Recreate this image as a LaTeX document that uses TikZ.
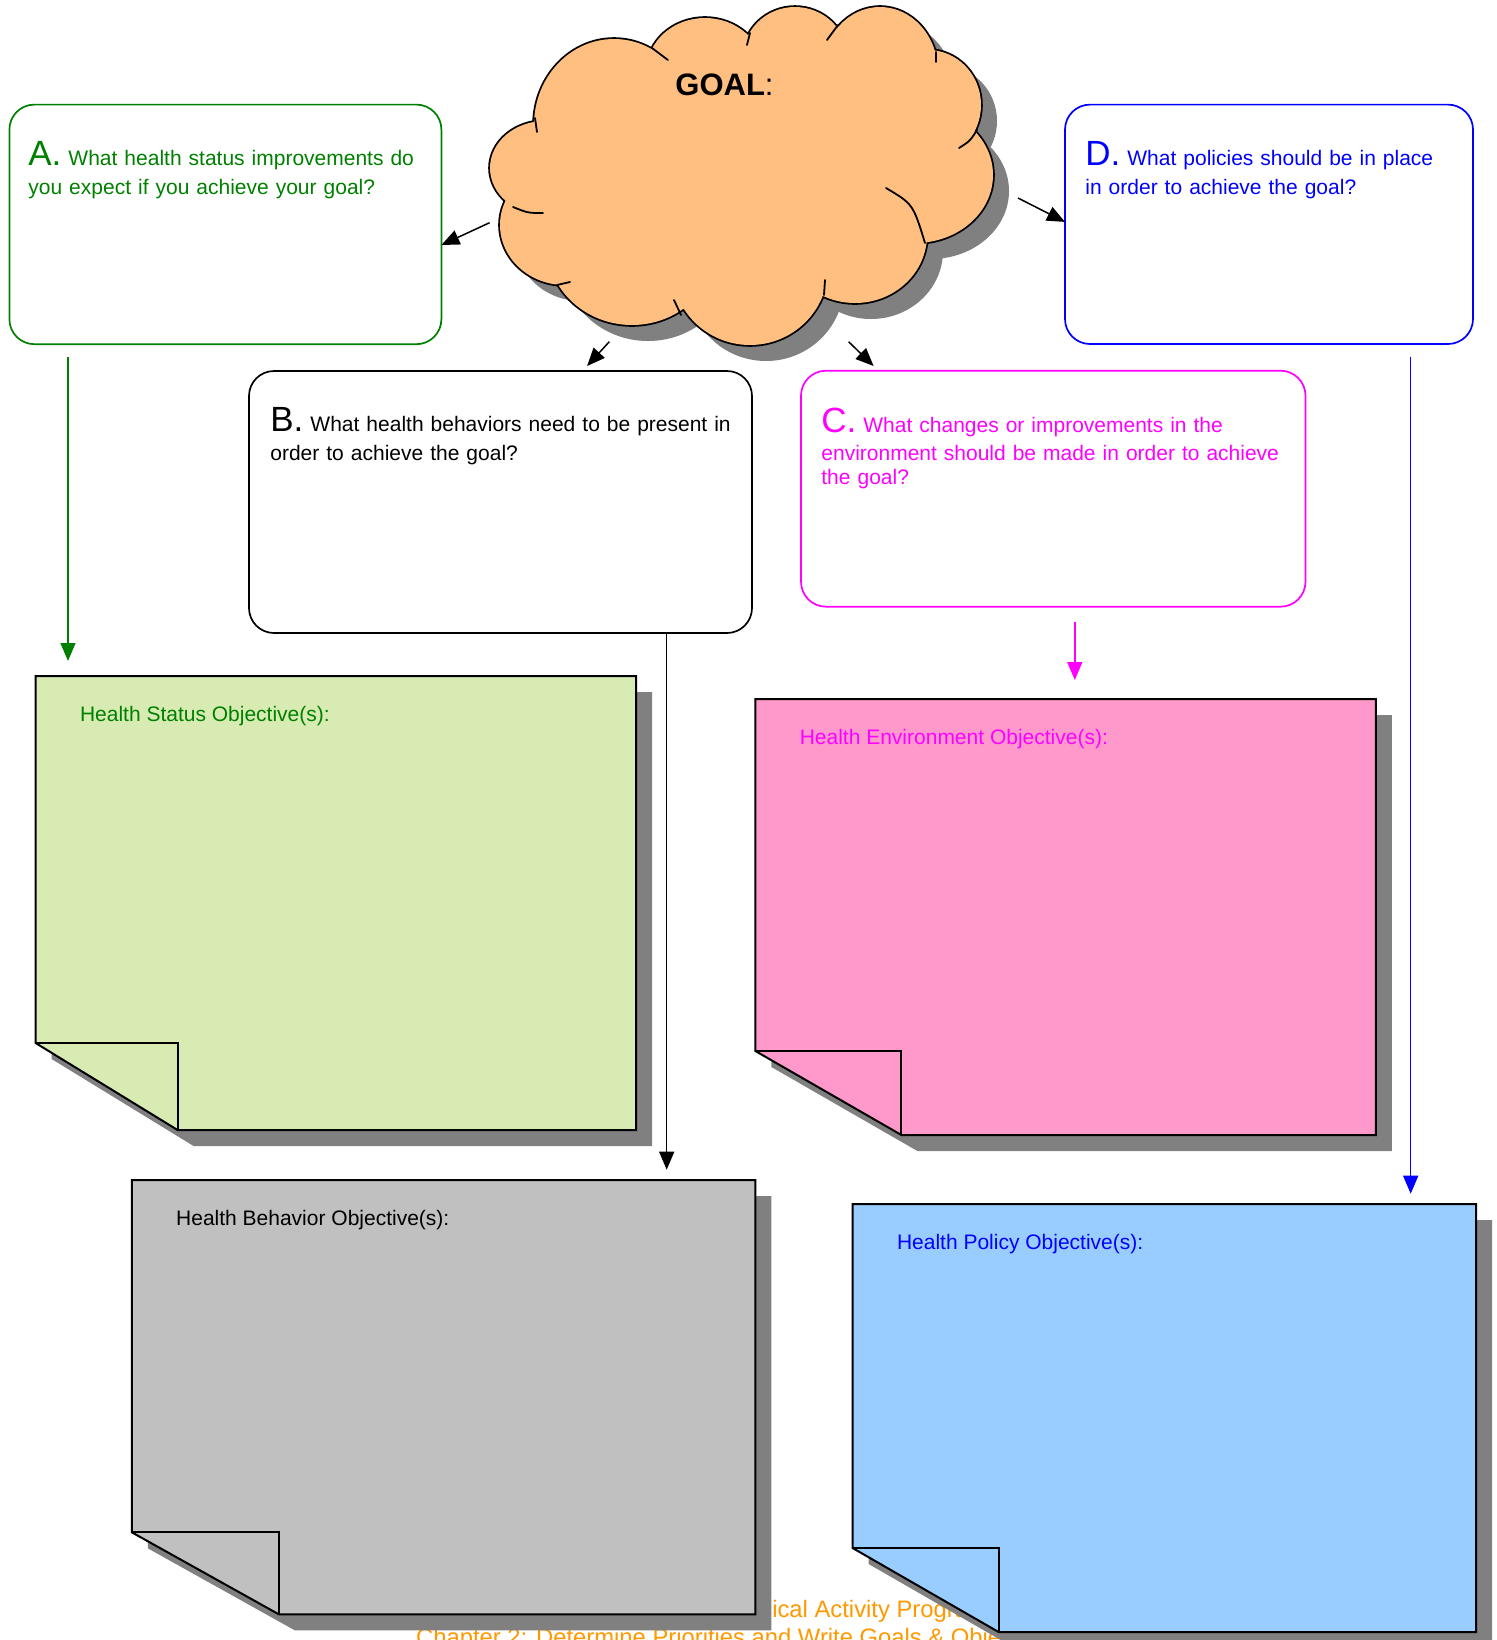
\documentclass[tikz,border=0pt]{standalone}
\usepackage{fontspec}
\setmainfont{Liberation Sans}
\usetikzlibrary{arrows.meta,calc}
\definecolor{cgreen}{RGB}{0,128,0}
\definecolor{cmag}{RGB}{255,0,255}
\definecolor{cblue}{RGB}{0,0,255}
\definecolor{cloudfill}{RGB}{255,191,128}
\definecolor{shadowgray}{RGB}{128,128,128}
\definecolor{notegreen}{RGB}{216,235,178}
\definecolor{notepink}{RGB}{255,153,204}
\definecolor{notegray}{RGB}{192,192,192}
\definecolor{noteblue}{RGB}{153,204,255}
\definecolor{footorange}{RGB}{255,153,0}

\newcommand{\bigletter}[1]{{\fontsize{17.5}{20}\selectfont #1}}
\newcommand{\cloudellipses}{%
  (614,125) ellipse [x radius=80, y radius=86]
  (705,70) ellipse [x radius=58, y radius=52]
  (795,57) ellipse [x radius=52, y radius=50]
  (880,72) ellipse [x radius=58, y radius=65]
  (928,105) ellipse [x radius=53, y radius=55]
  (915,175) ellipse [x radius=78, y radius=68]
  (855,235) ellipse [x radius=72, y radius=68]
  (750,268) ellipse [x radius=78, y radius=77]
  (632,245) ellipse [x radius=85, y radius=80]
  (565,225) ellipse [x radius=65, y radius=60]
  (545,168) ellipse [x radius=55, y radius=47]}
\newcommand{\cloudcore}{%
  (541,124) -- (655,55) -- (749,40) -- (836,33) -- (930,61) -- (970,133)
  -- (919,239) -- (822,286) -- (683,309) -- (562,280) -- (519,205) -- cycle}
\newcommand{\stickynote}[4]{%
  \fill[shadowgray, transform canvas={shift={(16,16)}}] (#1.north west) -- (#1.north east)
     -- (#1.south east) -- ($(#1.south west)+(#3,0)$) -- ($(#1.south west)+(0,-#4)$) -- cycle;
  \filldraw[fill=#2, notestroke] (#1.north west) -- (#1.north east)
     -- (#1.south east) -- ($(#1.south west)+(#3,0)$) -- ($(#1.south west)+(0,-#4)$) -- cycle;
  \draw[notestroke] ($(#1.south west)+(0,-#4)$) -- ($(#1.south west)+(#3,-#4)$)
     -- ($(#1.south west)+(#3,0)$);}

\begin{document}
\begin{tikzpicture}[x=0.5pt,y=-0.5pt,
  qbox/.style={draw, fill=white, rounded corners=12.5pt, line width=0.85pt,
    anchor=north west, inner sep=0pt, outer sep=0pt},
  qtext/.style={anchor=base west, inner sep=0pt, text width=250pt, align=left,
    font=\fontsize{10.5}{12}\selectfont},
  notebg/.style={anchor=north west, inner sep=0pt, outer sep=0pt},
  notetext/.style={anchor=base west, inner sep=0pt, font=\fontsize{10.5}{12}\selectfont},
  notestroke/.style={draw=black, line width=1pt, line join=miter},
  arr/.style={-{Triangle[length=9pt,width=7.5pt]}, line width=0.75pt},
  footer/.style={anchor=base west, inner sep=0pt, text=footorange,
    font=\fontsize{11.9}{14}\selectfont},
  tick/.style={line width=0.9pt, line cap=round}]
\useasboundingbox (0,0) rectangle (1496,1640);
\fill[white] (0,0) rectangle (1496,1640);

% footer (partly hidden, cut at the lower edge as in the original)
\node[footer] (foot1) at (719,1617) {Physical Activity Program};
\node[footer] (foot2) at (415.8,1645) {Chapter 2: Determine Priorities and Write Goals \& Objectives};

% cloud
\fill[shadowgray, shift={(16,16)}] \cloudellipses \cloudcore;
\draw[line width=1.8pt] \cloudellipses;
\fill[cloudfill] \cloudellipses \cloudcore;
\draw[tick] (652,48) .. controls (660,53) .. (668,60);
\draw[tick] (750,33) -- (747,45);
\draw[tick] (838,25) -- (827,40);
\draw[tick] (936,52) -- (936,62);
\draw[tick] (977,130) .. controls (970,141) .. (959,148);
\draw[tick] (886,188) .. controls (913,204) .. (925,243);
\draw[tick] (824,295) -- (825,280);
\draw[tick] (681,315) -- (674,300);
\draw[tick] (557,285) .. controls (564,284) .. (570,282);
\draw[tick] (513,207) .. controls (528,213) .. (543,213);
\draw[tick] (535,118) -- (537,132);
\node[anchor=base west, inner sep=0pt, font=\fontsize{15.5}{18}\selectfont] (goal) at (675,95) {\textbf{GOAL}:};

% sticky notes
\node[notebg, minimum width=300.2pt, minimum height=227pt] (G) at (35.6,676) {};
\node[notebg, minimum width=310.2pt, minimum height=218pt] (P) at (755.4,699) {};
\node[notebg, minimum width=311.8pt, minimum height=217.15pt] (Y) at (131.8,1180) {};
\node[notebg, minimum width=311.8pt, minimum height=214pt] (L) at (852.6,1204) {};
\stickynote{G}{notegreen}{142}{87}
\stickynote{P}{notepink}{146}{84}
\stickynote{Y}{notegray}{147}{82}
\stickynote{L}{noteblue}{146}{84}
\node[notetext, text=cgreen] (Gt) at ($(G.north west)+(44,45)$) {Health Status Objective(s):};
\node[notetext, text=cmag] (Pt) at ($(P.north west)+(44,45)$) {Health Environment Objective(s):};
\node[notetext, text=black] (Yt) at ($(Y.north west)+(44,45)$) {Health Behavior Objective(s):};
\node[notetext, text=cblue] (Lt) at ($(L.north west)+(44,45)$) {Health Policy Objective(s):};

% question boxes
\node[qbox, draw=cgreen, minimum width=216pt, minimum height=119.8pt] (A) at (9.4,104.6) {};
\node[qbox, draw=black, minimum width=251.5pt, minimum height=131pt] (B) at (249,371) {};
\node[qbox, draw=cmag, minimum width=252.25pt, minimum height=118pt] (C) at (801,370.7) {};
\node[qbox, draw=cblue, minimum width=204pt, minimum height=119.7pt] (D) at (1065,104.6) {};
\node[qtext, text=cgreen] (At) at ($(A.north west)+(18.6,60.4)$)
  {\bigletter{A.} What health status improvements do\\[2.5pt]you expect if you achieve your goal?};
\node[qtext, text=black] (Bt) at ($(B.north west)+(21,60.7)$)
  {\bigletter{B.} What health behaviors need to be present in\\[2.5pt]order to achieve the goal?};
\node[qtext, text=cmag] (Ct) at ($(C.north west)+(20,62)$)
  {\bigletter{C.} What changes or improvements in the\\[1.7pt]environment should be made in order to achieve\\the goal?};
\node[qtext, text=cblue] (Dt) at ($(D.north west)+(20,60.4)$)
  {\bigletter{D.} What policies should be in place\\[2.5pt]in order to achieve the goal?};

% connectors
\coordinate (cA) at (489.6,222.7);
\coordinate (cB) at (609.3,341.7);
\coordinate (cC) at (848.6,341.7);
\coordinate (cD) at (1018,198);
\coordinate (Ain) at ($(A.north east)!0.586!(A.south east)$);
\coordinate (Bin) at (587.1,366);
\coordinate (Cin) at (873.6,366);
\coordinate (Din) at ($(D.north west)!0.49!(D.south west)$);
\draw[arr] (cA) -- (Ain);
\draw[arr] (cB) -- (Bin);
\draw[arr] (cC) -- (Cin);
\draw[arr] (cD) -- (Din);

\coordinate (Aout) at (68,357);
\coordinate (Gin) at (68,661);
\coordinate (Bout) at (666.7,633);
\coordinate (Yin) at (666.7,1169.7);
\coordinate (Cout) at (1074.8,622.3);
\coordinate (Pin) at (1074.8,680);
\coordinate (Dout) at (1410.7,356.7);
\coordinate (Lin) at (1410.7,1193.7);
\draw[arr, draw=cgreen, fill=cgreen] (Aout) -- (Gin);
\draw[arr] (Bout) -- (Yin);
\draw[arr, draw=cmag, fill=cmag] (Cout) -- (Pin);
\draw[arr, draw=cblue, fill=cblue] (Dout) -- (Lin);
\end{tikzpicture}
\end{document}
